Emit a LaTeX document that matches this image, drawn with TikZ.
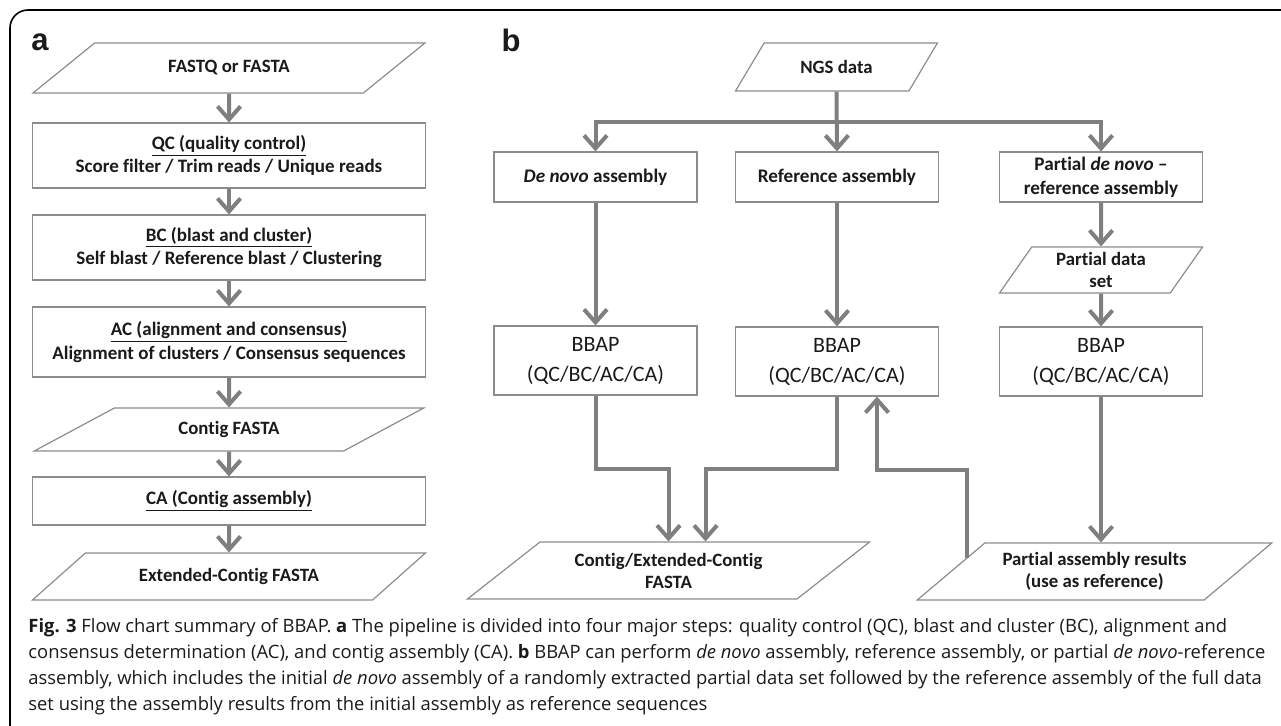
\documentclass[tikz,border=0pt]{standalone}
\usepackage{fontspec}
\usepackage{xcolor}
\usetikzlibrary{arrows.meta,shapes.geometric,calc}
\setmainfont{Carlito}[Ligatures={NoCommon}]
\newfontfamily\capfont{Open Sans}
\newfontfamily\panelfont{Liberation Sans}
\definecolor{figink}{HTML}{1A1A1A}
\definecolor{flowgray}{HTML}{7F7F7F}
\definecolor{boxline}{HTML}{8C8C8C}

\begin{document}
\begin{tikzpicture}[
  x=0.5pt,
  y=-0.5pt,
  every node/.style={text=figink},
  panel/.style={font=\panelfont\bfseries\fontsize{15.5}{15.5}\selectfont, inner sep=0pt},
  stage/.style={draw=boxline, line width=0.6pt, rectangle, align=center,
    inner sep=2pt, font=\bfseries\fontsize{9.6}{12}\selectfont},
  step a/.style={stage, minimum width=196.5pt, minimum height=32.5pt,
    font=\bfseries\fontsize{9.5}{11.8}\selectfont},
  bbap/.style={stage, minimum width=101.5pt, minimum height=34.5pt,
    font=\fontsize{11}{15}\selectfont},
  data/.style 2 args={draw=boxline, line width=0.6pt, trapezium,
    trapezium stretches=true, trapezium left angle=#1,
    trapezium right angle=#2, align=center, inner sep=1pt,
    font=\bfseries\fontsize{9.4}{11}\selectfont},
  flow/.style={draw=flowgray, line width=2pt,
    -{Straight Barb[length=6.5pt, width=11.5pt]}},
  caption/.style={font=\capfont\fontsize{9.2}{13}\selectfont, align=left,
    inner sep=0pt}
]
  % coordinates are pixels of the page, y runs down
  \useasboundingbox (0,0) rectangle (1281,726);
  \clip (0,0) rectangle (1281,726);
  \draw[black, line width=0.8pt, rounded corners=9pt] (10,10) rectangle (1300,745);

  % ================= a: the pipeline =====================================
  \node[panel] (la) at (40,42) {a};
  \node[data={33}{147}, minimum width=196.5pt, minimum height=25pt]
    (fastq) at (229,68) {FASTQ or FASTA};
  \node[step a] (qc) at (229,155.5)
    {\underline{QC (quality control)}\\Score filter / Trim reads / Unique reads};
  \node[step a] (bc) at (229,247.5)
    {\underline{BC (blast and cluster)}\\Self blast / Reference blast / Clustering};
  \node[step a, minimum height=35pt] (ac) at (229,342)
    {\underline{AC (alignment and consensus)}\\Alignment of clusters / Consensus sequences};
  \node[data={29}{151}, minimum width=196.5pt, minimum height=21.5pt]
    (contig) at (229,429.5) {Contig FASTA};
  \node[step a, minimum height=24pt] (ca) at (229,501)
    {\underline{CA (Contig assembly)}};
  \node[data={31}{149}, minimum width=196.5pt, minimum height=23.5pt]
    (extended) at (229,576.5) {Extended-Contig FASTA};

  \foreach \from/\to in {fastq/qc, qc/bc, bc/ac, ac/contig, contig/ca, ca/extended}
    \draw[flow] (\from) -- (\to);

  % ================= b: the three routes =================================
  \node[panel] (lb) at (511,40) {b};
  \node[data={49}{131}, minimum width=101.5pt, minimum height=24pt]
    (ngs) at (836.5,67) {NGS data};
  \node[stage, minimum width=101.5pt, minimum height=25pt] (denovo) at (595.5,177)
    {\textit{De novo} assembly};
  \node[stage, minimum width=101.5pt, minimum height=25pt] (refasm) at (837,177)
    {Reference assembly};
  \node[stage, minimum width=101.5pt, minimum height=25pt] (partial) at (1101,177)
    {Partial \textit{de novo} --\\reference assembly};
  \node[data={61}{119}, minimum width=102pt, minimum height=23pt]
    (pset) at (1101,270) {Partial data\\set};

  \node[bbap] (bbap1) at (595.5,360.5) {BBAP\\(QC/BC/AC/CA)};
  \node[bbap] (bbap2) at (837,361.5) {BBAP\\(QC/BC/AC/CA)};
  \node[bbap] (bbap3) at (1101,361.5) {BBAP\\(QC/BC/AC/CA)};

  \node[data={36}{144}, minimum width=201.5pt, minimum height=28.5pt]
    (merged) at (668.5,570.5) {Contig/Extended-Contig\\FASTA};
  \node[data={36}{144}, minimum width=177.5pt, minimum height=28.5pt]
    (presult) at (1094.5,571.5) {Partial assembly results\\(use as reference)};

  \coordinate (split) at (837,122);
  \draw[flow] (ngs.south) -- (refasm.north);
  \draw[flow] (split) -| (denovo.north);
  \draw[flow] (split) -| (partial.north);

  \draw[flow] (denovo) -- (bbap1);
  \draw[flow] (refasm) -- (bbap2);
  \draw[flow] (partial) -- (pset);
  \draw[flow] (pset) -- (bbap3);

  \draw[flow] (bbap1.south) -- ++(0,73) -| (merged.north);
  \draw[flow] (bbap2.south) -- ++(0,72) -| (merged.top side);
  \draw[flow] (bbap3.south) -- (bbap3.south |- presult.north);

  % partial results are fed back as the reference
  \coordinate (feedback) at ($(presult.top left corner)!0.26!(presult.bottom left corner)$);
  \draw[flow] (feedback) -- ++(0,-88) -| ([xshift=20pt]bbap2.south);

  % ================= caption =============================================
  \node[caption, anchor=north west] (cap) at (28,618)
    {\textbf{Fig. 3} Flow chart summary of BBAP. \textbf{a} The pipeline is divided into four major steps: quality control (QC), blast and cluster (BC), alignment and\\
     consensus determination (AC), and contig assembly (CA). \textbf{b} BBAP can perform \textit{de novo} assembly, reference assembly, or partial \textit{de novo}-reference\\
     assembly, which includes the initial \textit{de novo} assembly of a randomly extracted partial data set followed by the reference assembly of the full data\\
     set using the assembly results from the initial assembly as reference sequences};
\end{tikzpicture}
\end{document}
